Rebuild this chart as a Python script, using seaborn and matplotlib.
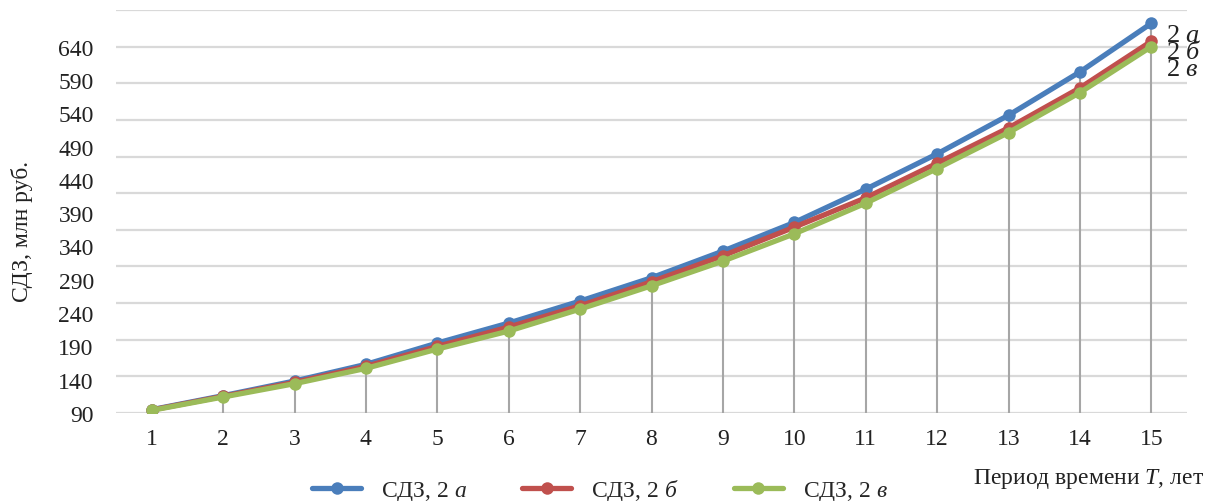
import numpy as np
import pandas as pd
import matplotlib
matplotlib.use("Agg")
import matplotlib.pyplot as plt
import seaborn as sns

# Период времени T, лет
periods = list(range(1, 16))

# СДЗ, млн руб. по трём вариантам
sdz_2a = [95, 116, 138, 163, 195, 225, 258, 293, 333, 376, 426, 479, 537, 602, 675]
sdz_2b = [94.5, 115, 136, 160, 190, 219, 251, 287, 326, 369, 413, 465, 518, 578, 648]
sdz_2v = [94, 114, 134, 157, 186, 213, 246, 281, 318, 359, 405, 457, 511, 571, 640]

series_names = ["СДЗ, 2 $\\mathit{а}$", "СДЗ, 2 $\\mathit{б}$", "СДЗ, 2 $\\mathit{в}$"]
end_labels = ["2 $\\mathit{а}$", "2 $\\mathit{б}$", "2 $\\mathit{в}$"]
colors = ["#4A7EBB", "#C0504D", "#9BBB59"]

y_tick_labels = [90, 140, 190, 240, 290, 340, 390, 440, 490, 540, 590, 640]

sns.set_theme(style="white")
plt.rcParams["font.family"] = ["Liberation Serif", "DejaVu Serif"]
plt.rcParams["mathtext.fontset"] = "custom"
plt.rcParams["mathtext.rm"] = "Liberation Serif"
plt.rcParams["mathtext.it"] = "Liberation Serif:italic"

df = pd.DataFrame({
    "T": periods * 3,
    "value": sdz_2a + sdz_2b + sdz_2v,
    "series": sum([[n] * len(periods) for n in series_names], []),
})

W, H = 1212, 502
fig = plt.figure(figsize=(W / 100, H / 100), dpi=100)
ax = fig.add_axes([116 / W, 1 - 414 / H, (1187 - 116) / W, (414 - 11) / H])

y_min, y_max = 90, 695
ax.set_xlim(0.5, 15.5)
ax.set_ylim(y_min, y_max)

# horizontal grid
for gy in np.arange(y_min, y_max + 1, 55):
    ax.axhline(gy, color="#D9D9D9", lw=1.6, zorder=0)

# drop lines from the highest series down to the axis
tops = np.maximum.reduce([np.array(sdz_2a), np.array(sdz_2b), np.array(sdz_2v)])
ax.vlines(periods, y_min, tops, color="#A6A6A6", lw=1.5, zorder=1)

for name, col in zip(series_names, colors):
    sns.lineplot(data=df[df["series"] == name], x="T", y="value", ax=ax,
                 color=col, lw=3.8, marker="o", markersize=9,
                 markeredgewidth=0, label=name, zorder=3)

ax.set_xticks(periods)
ax.set_xticklabels([str(p) for p in periods], fontsize=17, color="#222222")
ax.set_yticks(y_tick_labels)
ax.set_yticklabels([str(v) for v in y_tick_labels], fontsize=17, color="#222222")
ax.tick_params(axis="x", length=0, pad=11)
ax.tick_params(axis="y", length=0, pad=16)
ax.set_xlabel("")
ax.set_ylabel("")
for s in ax.spines.values():
    s.set_visible(False)

# series labels at the right end, stacked tightly
fig.text(1166 / W, 1 - 25 / H, "\n".join(end_labels), fontsize=19, color="#222222",
         ha="left", va="top", linespacing=0.68)

handles, labels = ax.get_legend_handles_labels()
ax.get_legend().remove()
fig.legend(handles, labels, loc="center", bbox_to_anchor=(600 / W, 1 - 491 / H), ncol=3,
           frameon=False, fontsize=17, handlelength=2.1, columnspacing=2.3,
           handletextpad=0.85, borderpad=0)

fig.text(1204 / W, 1 - 479 / H, "Период времени $T$, лет", ha="right", va="center",
         fontsize=17, color="#222222")
fig.text(22 / W, 1 - 232 / H, "СДЗ, млн руб.", rotation=90, ha="center", va="center",
         fontsize=17, color="#222222")

fig.savefig("out.png", dpi=100)
